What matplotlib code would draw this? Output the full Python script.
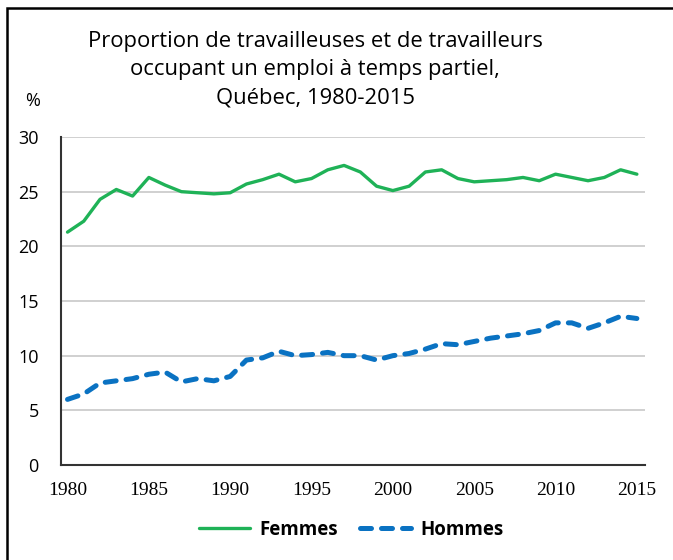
import matplotlib
matplotlib.use("Agg")
import matplotlib.pyplot as plt
from matplotlib.patches import Rectangle

# Données (%)
annees = list(range(1980, 2016))
femmes = [21.3, 22.3, 24.3, 25.2, 24.6, 26.3, 25.6, 25.0, 24.9, 24.8,
          24.9, 25.7, 26.1, 26.6, 25.9, 26.2, 27.0, 27.4, 26.8, 25.5,
          25.1, 25.5, 26.8, 27.0, 26.2, 25.9, 26.0, 26.1, 26.3, 26.0,
          26.6, 26.3, 26.0, 26.3, 27.0, 26.6]
hommes = [6.0, 6.5, 7.5, 7.7, 7.9, 8.3, 8.5, 7.6, 7.9, 7.7,
          8.1, 9.6, 9.8, 10.4, 10.0, 10.1, 10.3, 10.0, 10.0, 9.6,
          10.0, 10.2, 10.6, 11.1, 11.0, 11.3, 11.6, 11.8, 12.0, 12.3,
          13.0, 13.0, 12.5, 13.0, 13.6, 13.4]
yticks = [0, 5, 10, 15, 20, 25, 30]
xticks = [1980, 1985, 1990, 1995, 2000, 2005, 2010, 2015]

vert = "#1FB257"
bleu = "#0A72C2"

fig = plt.figure(figsize=(6.73, 5.60), dpi=100)
ax = fig.add_axes([61 / 673, 1 - 465 / 560, 584 / 673, 328 / 560])

ax.plot(annees, femmes, color=vert, lw=2.4, solid_capstyle="round", label="Femmes")
ax.plot(annees, hommes, color=bleu, lw=3.6, ls=(0, (2.2, 2.0)),
        dash_capstyle="round", label="Hommes")

ax.set_ylim(0, 30)
ax.set_xlim(1979.6, 2015.5)
ax.set_yticks(yticks)
ax.set_xticks(xticks)
ax.grid(axis="y", color="#c8c8c8", lw=1.2)
ax.set_axisbelow(True)
ax.tick_params(length=0)
ax.tick_params(axis="y", pad=16, labelsize=13)
ax.tick_params(axis="x", pad=12, labelsize=14)
for t in ax.get_yticklabels():
    t.set_family("Open Sans")
for t in ax.get_xticklabels():
    t.set_family("Liberation Serif")
for s in ["top", "right"]:
    ax.spines[s].set_visible(False)
for s in ["left", "bottom"]:
    ax.spines[s].set_color("#333333")
    ax.spines[s].set_linewidth(1.5)

titre = ["Proportion de travailleuses et de travailleurs",
         "occupant un emploi à temps partiel,",
         "Québec, 1980-2015"]
for i, ligne in enumerate(titre):
    fig.text(315 / 673, 1 - (42 + 28 * i) / 560, ligne,
             ha="center", va="center", fontsize=15.8, family="Open Sans")
fig.text(33 / 673, 1 - 101 / 560, "%", ha="center", va="center",
         fontsize=13, family="Open Sans")

fig.legend(loc="center", bbox_to_anchor=(0.522, 1 - 530 / 560), ncol=2,
           frameon=False, handlelength=2.7, handletextpad=0.5, columnspacing=1.2,
           prop={"family": "Open Sans", "weight": "bold", "size": 13.5})

fig.patches.append(Rectangle((7 / 673, -0.5), 2, 1.5 - 8 / 560,
                             transform=fig.transFigure,
                             fill=False, ec="black", lw=1.8))

fig.savefig("out.png", dpi=100)
